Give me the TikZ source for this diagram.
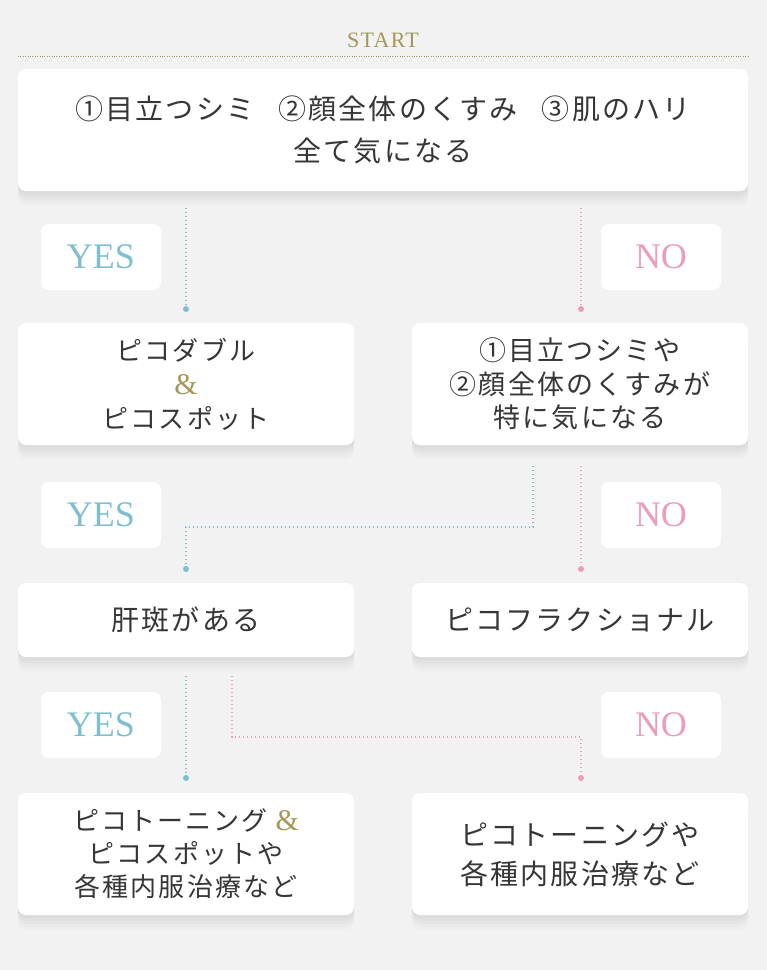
\documentclass[tikz,border=0pt]{standalone}
\usepackage{fontspec}
\usetikzlibrary{shadows}
\newfontfamily\jpfont[LetterSpace=8]{Noto Sans CJK JP}
\newfontfamily\enfont{Liberation Serif}
\newfontfamily\stfont[LetterSpace=6]{Liberation Serif}
\definecolor{bgcol}{HTML}{F2F2F2}
\definecolor{inkcol}{HTML}{363636}
\definecolor{goldcol}{HTML}{A3985A}
\definecolor{yescol}{HTML}{7FBECF}
\definecolor{nocol}{HTML}{EC9DBB}
\newcommand{\amp}{{\enfont\fontsize{30}{30}\selectfont\color{goldcol}\&}}
\begin{document}
\begin{tikzpicture}[x=1pt,y=-1pt]

    \tikzset{qbox/.style={fill=white,rounded corners=8pt,minimum width=336pt,minimum height=122pt,inner sep=0pt,align=center,text=inkcol,
      drop shadow={shadow xshift=0pt,shadow yshift=-15pt,opacity=0.012,fill=black},
      drop shadow={shadow xshift=0pt,shadow yshift=-12pt,opacity=0.015,fill=black},
      drop shadow={shadow xshift=0pt,shadow yshift=-9pt,opacity=0.018,fill=black},
      drop shadow={shadow xshift=0pt,shadow yshift=-6pt,opacity=0.02,fill=black},
      drop shadow={shadow xshift=0pt,shadow yshift=-3pt,opacity=0.02,fill=black}}}
    \tikzset{tagbox/.style={fill=white,rounded corners=8pt,minimum width=120pt,minimum height=66pt,inner sep=0pt,font=\enfont\fontsize{36}{36}\selectfont}}
    \tikzset{dotnode/.style={circle,inner sep=0pt,minimum size=6pt}}

    \fill[bgcol] (0,0) rectangle (767,970);
    \useasboundingbox (0,0) rectangle (767,970);

    \node[text=goldcol,font=\stfont\fontsize{22}{22}\selectfont] (st) at (383,40) {START};
    \coordinate (l1) at (18,56);
    \coordinate (l2) at (748,56);
    \draw[goldcol,line width=0.8pt,dash pattern=on 0.8pt off 1.6pt] (l1) -- (l2);

    \node[qbox,minimum width=730pt,font=\jpfont\fontsize{28}{42}\selectfont] (q0) at (383,130)
      {①目立つシミ\hspace{24pt}②顔全体のくすみ\hspace{24pt}③肌のハリ\\全て気になる};

    \node[qbox,font=\jpfont\fontsize{26}{34}\selectfont] (q1) at (186,384) {ピコダブル\\\amp\\ピコスポット};
    \node[qbox,font=\jpfont\fontsize{27}{33.5}\selectfont] (q2) at (580,384) {①目立つシミや\\②顔全体のくすみが\\特に気になる};

    \node[qbox,minimum height=74pt,font=\jpfont\fontsize{28}{34}\selectfont] (q3) at (186,620) {肝斑がある};
    \node[qbox,minimum height=74pt,font=\jpfont\fontsize{28}{34}\selectfont] (q4) at (580,620) {ピコフラクショナル};

    \node[qbox,font=\jpfont\fontsize{26}{33}\selectfont] (q5) at (186,854) {ピコトーニング \amp\\ピコスポットや\\各種内服治療など};
    \node[qbox,font=\jpfont\fontsize{28}{39}\selectfont] (q6) at (580,854) {ピコトーニングや\\各種内服治療など};

    \node[tagbox,text=yescol] (y1) at (101,257) {YES};
    \node[tagbox,text=nocol] (n1) at (661,257) {NO};
    \node[tagbox,text=yescol] (y2) at (101,515) {YES};
    \node[tagbox,text=nocol] (n2) at (661,515) {NO};
    \node[tagbox,text=yescol] (y3) at (101,725) {YES};
    \node[tagbox,text=nocol] (n3) at (661,725) {NO};

    \node[dotnode,fill=yescol] (d1) at (186,309) {};
    \node[dotnode,fill=nocol] (e1) at (581,309) {};
    \node[dotnode,fill=yescol] (d2) at (186,569) {};
    \node[dotnode,fill=nocol] (e2) at (581,569) {};
    \node[dotnode,fill=yescol] (d3) at (186,778) {};
    \node[dotnode,fill=nocol] (e3) at (581,778) {};

    \coordinate (s1) at (186,208);
    \coordinate (t1) at (581,208);
    \coordinate (s2) at (533,466);
    \coordinate (k2) at (186,527);
    \coordinate (t2) at (581,466);
    \coordinate (s3) at (186,676);
    \coordinate (t3) at (232,676);
    \coordinate (k3) at (581,737);

    \begin{scope}[every path/.style={line width=1.3pt,dash pattern=on 1.3pt off 2.7pt}]
        \draw[yescol] (s1) -- (d1);
        \draw[nocol] (t1) -- (e1);

        \draw[yescol] (s2) |- (k2) -- (d2);
        \draw[nocol] (t2) -- (e2);

        \draw[yescol] (s3) -- (d3);
        \draw[nocol] (t3) |- (k3) -- (e3);
    \end{scope}
\end{tikzpicture}
\end{document}
